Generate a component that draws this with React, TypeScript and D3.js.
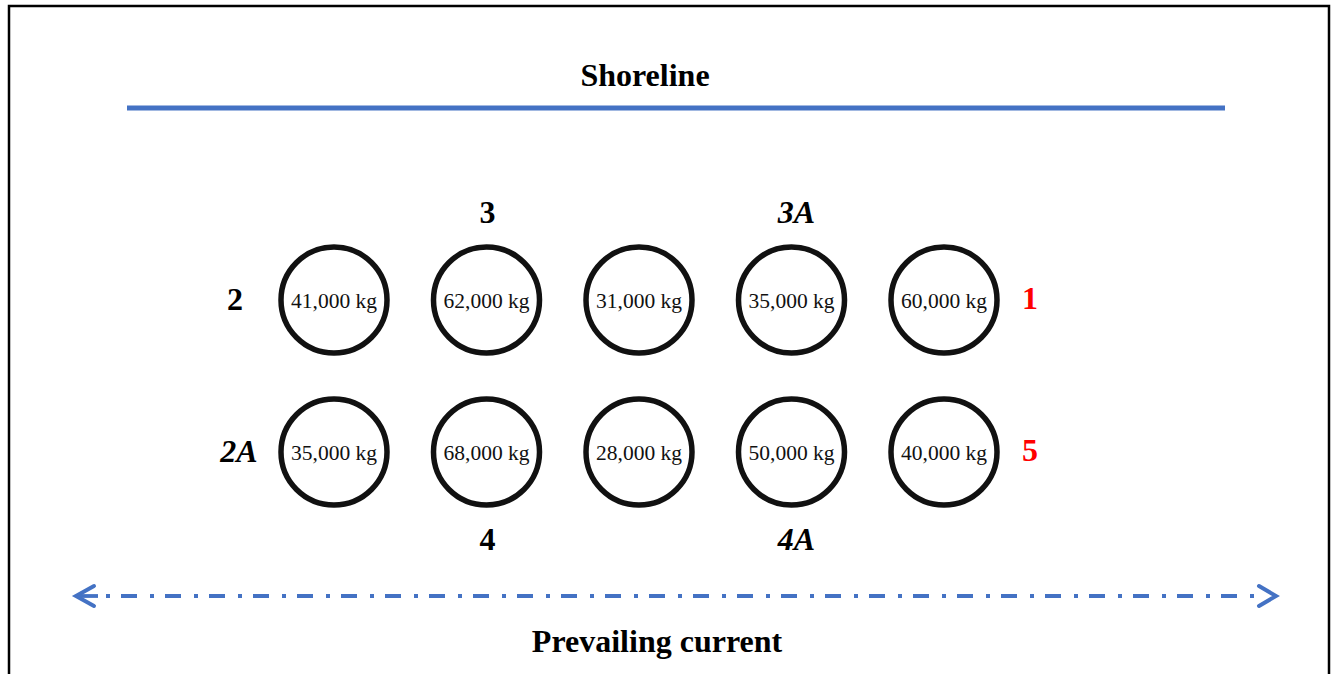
import { useEffect, useRef } from 'react';
import * as d3 from 'd3';

// pen layout: 2 rows x 5 columns, biomass per pen
const columns = ['c1', 'c2', 'c3', 'c4', 'c5'];
const rows = ['near', 'far'];
const nearShoreValues = [41000, 62000, 31000, 35000, 60000];
const farShoreValues = [35000, 68000, 28000, 50000, 40000];

// site labels placed around the grid
const siteLabels = ['2', '3', '3A', '1', '2A', '4', '4A', '5'];
const siteItalic = [false, false, true, false, true, false, true, false];
const siteRed = [false, false, false, true, false, false, false, true];
// anchor: [column, row, where]
const siteAnchor: [string, string, string][] = [
  ['c1', 'near', 'left'],
  ['c2', 'near', 'top'],
  ['c4', 'near', 'top'],
  ['c5', 'near', 'right'],
  ['c1', 'far', 'left'],
  ['c2', 'far', 'bottom'],
  ['c4', 'far', 'bottom'],
  ['c5', 'far', 'right'],
];

const topTitle = 'Shoreline';
const bottomTitle = 'Prevailing current';

const W = 1333;
const H = 674;
const BLUE = '#4472C4';
const SERIF = '"Liberation Serif", "Times New Roman", serif';

export default function App() {
  const svgRef = useRef<SVGSVGElement>(null);

  useEffect(() => {
    if (!svgRef.current) return;
    const svg = d3.select(svgRef.current);
    svg.selectAll('*').remove();

    const x = d3.scalePoint<string>().domain(columns).range([334, 944]);
    const y = d3.scalePoint<string>().domain(rows).range([300, 452]);
    const r = 53;
    const fmt = d3.format(',');

    // frame
    svg
      .append('rect')
      .attr('x', 9)
      .attr('y', 6)
      .attr('width', 1320)
      .attr('height', 700)
      .attr('fill', 'none')
      .attr('stroke', '#000')
      .attr('stroke-width', 2.5);

    // shoreline
    svg
      .append('text')
      .attr('x', 645)
      .attr('y', 86)
      .attr('text-anchor', 'middle')
      .attr('font-family', SERIF)
      .attr('font-weight', 'bold')
      .attr('font-size', 32)
      .text(topTitle);

    svg
      .append('line')
      .attr('x1', 127)
      .attr('x2', 1225)
      .attr('y1', 108)
      .attr('y2', 108)
      .attr('stroke', BLUE)
      .attr('stroke-width', 5);

    const cells = [
      ...nearShoreValues.map((v, i) => ({ col: columns[i], row: rows[0], v })),
      ...farShoreValues.map((v, i) => ({ col: columns[i], row: rows[1], v })),
    ];

    const g = svg.append('g');
    g.selectAll('circle')
      .data(cells)
      .join('circle')
      .attr('cx', (d) => x(d.col)!)
      .attr('cy', (d) => y(d.row)!)
      .attr('r', r)
      .attr('fill', 'none')
      .attr('stroke', '#111')
      .attr('stroke-width', 5.5);

    g.selectAll('text')
      .data(cells)
      .join('text')
      .attr('x', (d) => x(d.col)!)
      .attr('y', (d) => y(d.row)! + 8)
      .attr('text-anchor', 'middle')
      .attr('font-family', SERIF)
      .attr('font-size', 21.5)
      .attr('fill', '#111')
      .text((d) => `${fmt(d.v)} kg`);

    // site labels
    const offset = (where: string) => {
      if (where === 'left') return [-99, 10];
      if (where === 'right') return [86, 9];
      if (where === 'top') return [1, -77];
      return [1, 98];
    };
    svg
      .append('g')
      .selectAll('text')
      .data(siteLabels)
      .join('text')
      .attr('x', (_, i) => x(siteAnchor[i][0])! + offset(siteAnchor[i][2])[0] + (siteItalic[i] ? 4 : 0))
      .attr('y', (_, i) => y(siteAnchor[i][1])! + offset(siteAnchor[i][2])[1])
      .attr('text-anchor', 'middle')
      .attr('font-family', SERIF)
      .attr('font-weight', 'bold')
      .attr('font-style', (_, i) => (siteItalic[i] ? 'italic' : 'normal'))
      .attr('font-size', 32)
      .attr('fill', (_, i) => (siteRed[i] ? '#FF0000' : '#000'))
      .text((d) => d);

    // prevailing current arrow
    const ay = 596;
    svg
      .append('line')
      .attr('x1', 106)
      .attr('x2', 1254)
      .attr('y1', ay)
      .attr('y2', ay)
      .attr('stroke', BLUE)
      .attr('stroke-width', 3.8)
      .attr('stroke-dasharray', '4 11 16 13');

    const chevron = d3.line();
    svg
      .append('path')
      .attr('d', chevron([[94, ay - 10], [76, ay], [94, ay + 10]]))
      .attr('fill', 'none')
      .attr('stroke', BLUE)
      .attr('stroke-width', 4)
      .attr('stroke-linecap', 'round')
      .attr('stroke-linejoin', 'miter');
    svg
      .append('line')
      .attr('x1', 77)
      .attr('x2', 98)
      .attr('y1', ay)
      .attr('y2', ay)
      .attr('stroke', BLUE)
      .attr('stroke-width', 3.8);
    svg
      .append('path')
      .attr('d', chevron([[1259, ay - 10], [1276, ay], [1259, ay + 10]]))
      .attr('fill', 'none')
      .attr('stroke', BLUE)
      .attr('stroke-width', 4)
      .attr('stroke-linecap', 'round')
      .attr('stroke-linejoin', 'miter');

    svg
      .append('text')
      .attr('x', 657)
      .attr('y', 652)
      .attr('text-anchor', 'middle')
      .attr('font-family', SERIF)
      .attr('font-weight', 'bold')
      .attr('font-size', 32)
      .text(bottomTitle);
  }, []);

  return (
    <svg
      ref={svgRef}
      width={W}
      height={H}
      style={{ position: 'absolute', left: 0, top: 0, background: '#fff' }}
    />
  );
}
